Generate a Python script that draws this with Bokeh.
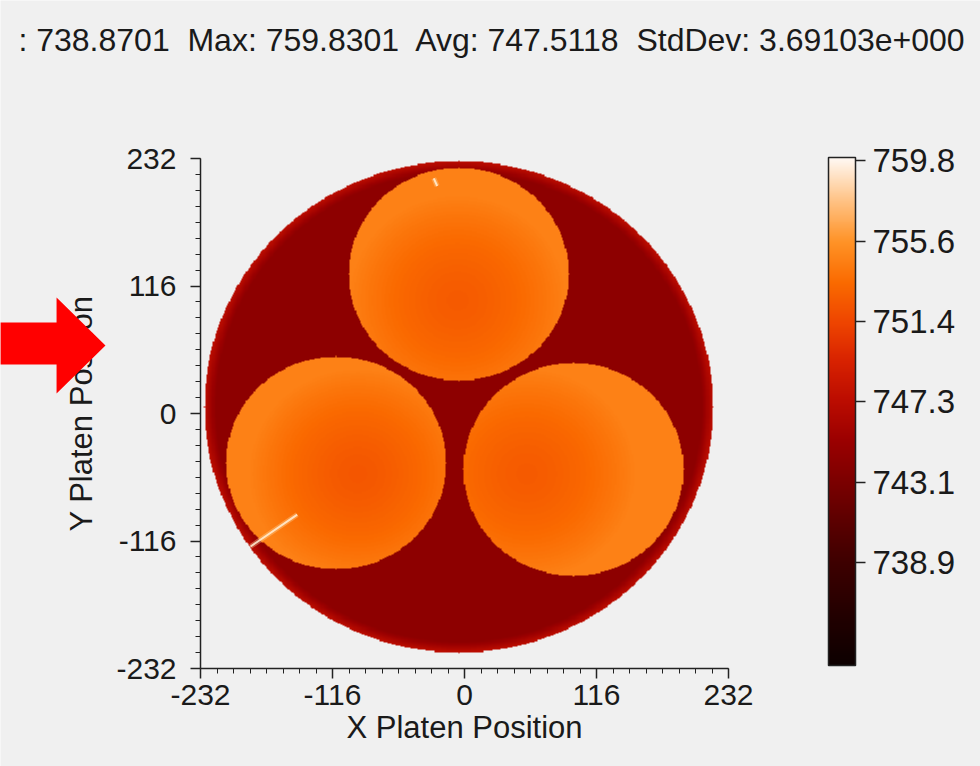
import numpy as np
from bokeh.plotting import figure
from bokeh.models import (LinearColorMapper, ColorBar, FixedTicker, Range1d,
                          Label, PolyAnnotation)
from bokeh.embed import file_html
from bokeh.resources import INLINE

# ---------------- data ----------------
stats_text = ": 738.8701\u00a0 Max: 759.8301\u00a0 Avg: 747.5118\u00a0 StdDev: 3.69103e+000"
x_label = "X Platen Position"
y_label = "Y Platen Position"

axis_ticks = [-232, -116, 0, 116, 232]
axis_tick_labels = ["-232", "-116", "0", "116", "232"]

cbar_ticks = [738.8701, 743.0621, 747.2541, 751.4461, 755.6381, 759.8301]
cbar_labels = ["738.9", "743.1", "747.3", "751.4", "755.6", "759.8"]
cbar_low = 733.5
cbar_high = 760.0

# platen (outer disc)
platen_x = -5.0
platen_y = 6.0
platen_r = 224.0
platen_level = 744.3
platen_rim_level = 747.4
platen_rim_width = 10.0

# three wafers
wafer_x = [-5.0, -113.0, 96.0]
wafer_y = [127.0, -45.0, -51.0]
wafer_r = [97.0, 97.0, 97.0]
wafer_cool_x = [-6.0, -94.0, 55.0]
wafer_cool_y = [103.0, -55.0, -55.0]
wafer_center_level = [752.6, 752.4, 752.6]
wafer_edge_level = [754.7, 754.7, 754.7]

# bright streak artefacts
streak_x0 = [-188.0, -27.0]
streak_y0 = [-121.0, 214.0]
streak_x1 = [-147.0, -24.0]
streak_y1 = [-92.0, 207.0]

# colour bar anchor colours (value, colour) sampled from the legend
pal_values = [733.5, 736.0, 738.9, 741.0, 743.1, 745.2, 747.3, 749.4, 751.4, 753.5, 755.6, 757.7, 760.0]
pal_colors = ["#0d0000", "#220000", "#3e0000", "#5c0000", "#7c0000", "#9a0000", "#bb0c00",
              "#d82200", "#ee4400", "#fa6a00", "#ff9226", "#ffc080", "#fff8f2"]

# ---------------- build palette ----------------
def hex2rgb(h):
    return [int(h[i:i + 2], 16) for i in (1, 3, 5)]

rgb = np.array([hex2rgb(c) for c in pal_colors], dtype=float)
vals = np.linspace(cbar_low, cbar_high, 256)
palette = []
for v in vals:
    r = np.interp(v, pal_values, rgb[:, 0])
    g = np.interp(v, pal_values, rgb[:, 1])
    b = np.interp(v, pal_values, rgb[:, 2])
    palette.append("#%02x%02x%02x" % (int(round(r)), int(round(g)), int(round(b))))

# ---------------- build the map ----------------
grid = np.arange(-232.0, 232.5, 1.0)
X, Y = np.meshgrid(grid, grid)
Z = np.full(X.shape, np.nan, dtype=np.float32)

d0 = np.hypot(X - platen_x, Y - platen_y)
inside = d0 <= platen_r
rim_t = np.clip((d0 - (platen_r - platen_rim_width)) / platen_rim_width, 0, 1)
Z[inside] = (platen_level + (platen_rim_level - platen_level) * rim_t)[inside]

for wx, wy, wr, cx, cy, cl, el in zip(wafer_x, wafer_y, wafer_r, wafer_cool_x,
                                      wafer_cool_y, wafer_center_level, wafer_edge_level):
    d = np.hypot(X - wx, Y - wy)
    m = d <= wr
    ds = np.hypot(X - cx, Y - cy)
    t = np.clip(ds / wr, 0, 1)
    w = cl + (el - cl) * t ** 1.6
    Z[m] = w[m]

# ---------------- figure ----------------
FONT = "Liberation Sans"
BG = "#F0F0F0"
W, H = 980, 766
# plot-area placement on the canvas (pixels): left, right, top, bottom
PL, PR, PT, PB = 200, 728, 158, 668
kx = (PR - PL) / 464.0
ky = (PB - PT) / 464.0

p = figure(width=W, height=H, output_backend="svg", toolbar_location=None,
           x_range=Range1d(-232 - PL / kx, 232 + (W - PR) / kx),
           y_range=Range1d(-232 - (H - PB) / ky, 232 + PT / ky),
           min_border=0, min_border_left=0, min_border_right=0,
           min_border_top=0, min_border_bottom=0)
p.background_fill_color = BG
p.border_fill_color = BG
p.outline_line_color = None
p.grid.visible = False

mapper = LinearColorMapper(palette=palette, low=cbar_low, high=cbar_high,
                           nan_color="rgba(0,0,0,0)")
p.image(image=[Z], x=-232, y=-232, dw=464, dh=464, color_mapper=mapper)

p.segment(x0=streak_x0, y0=streak_y0, x1=streak_x1, y1=streak_y1,
          line_color="#ffd9a0", line_width=5, line_alpha=0.35)
p.segment(x0=streak_x0, y0=streak_y0, x1=streak_x1, y1=streak_y1,
          line_color="#fff0d8", line_width=2, line_alpha=0.85)

minor = [axis_ticks[0] + k * 14.5 for k in range(33)]
for ax, lab in ((p.xaxis[0], x_label), (p.yaxis[0], y_label)):
    ax.fixed_location = -232
    ax.bounds = (-232, 232)
    ax.ticker = FixedTicker(ticks=axis_ticks, minor_ticks=minor)
    ax.major_label_overrides = {t: s for t, s in zip(axis_ticks, axis_tick_labels)}
    ax.axis_label = lab
    ax.axis_label_text_font = FONT
    ax.axis_label_text_font_style = "normal"
    ax.axis_label_text_font_size = "31px"
    ax.axis_label_text_color = "#1a1a1a"
    ax.major_label_text_font = FONT
    ax.major_label_text_font_size = "30px"
    ax.major_label_text_color = "#1a1a1a"
    ax.axis_line_color = "#222222"
    ax.axis_line_width = 1.5
    ax.major_tick_line_color = "#222222"
    ax.major_tick_line_width = 1.5
    ax.minor_tick_line_color = "#222222"
    ax.major_tick_in = 0
    ax.major_tick_out = 10
    ax.minor_tick_in = 0
    ax.minor_tick_out = 5

p.xaxis.major_label_standoff = 6
p.xaxis.axis_label_standoff = 2
p.yaxis.major_label_standoff = 14
p.yaxis.axis_label_standoff = 14

cb = ColorBar(color_mapper=mapper, width=27, height=508, location=(828, H - 665),
              padding=0, margin=0,
              ticker=FixedTicker(ticks=cbar_ticks),
              major_label_overrides={t: s for t, s in zip(cbar_ticks, cbar_labels)},
              major_label_text_font=FONT, major_label_text_font_size="33px",
              major_label_text_color="#1a1a1a",
              major_tick_in=0, major_tick_out=10, major_tick_line_color="#222222",
              major_tick_line_width=1.5, label_standoff=7,
              bar_line_color="#222222", bar_line_width=1.5,
              background_fill_alpha=0, border_line_color=None)
p.add_layout(cb)

# statistics line above the plot
title = Label(x=-392, y=323.5, text=stats_text,
              text_font=FONT, text_font_size="32px", text_color="#1a1a1a",
              text_baseline="bottom")
p.add_layout(title)

# red arrow pointing at the map
arrow = PolyAnnotation(xs=[-408, -358.5, -358.5, -315.5, -358.5, -358.5, -408],
                       ys=[82.8, 82.8, 105.5, 61.9, 18.2, 44.6, 44.6],
                       fill_color="#ff0000", fill_alpha=1.0, line_color=None,
                       level="overlay")
p.add_layout(arrow)

open("out.html", "w").write(file_html(p, INLINE))
